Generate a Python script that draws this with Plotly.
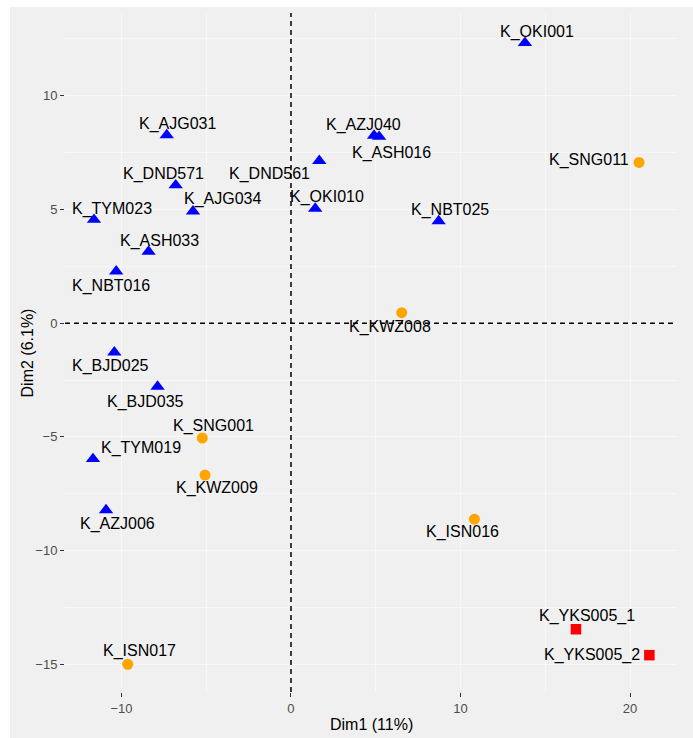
import plotly.graph_objects as go

# PCA coordinates of each sample (Dim1, Dim2), grouped by cluster
blue_names = ["K_OKI001", "K_AJG031", "K_DND571", "K_AJG034", "K_TYM023", "K_ASH033",
              "K_NBT016", "K_DND561", "K_OKI010", "K_AZJ040", "K_ASH016", "K_NBT025",
              "K_BJD025", "K_BJD035", "K_TYM019", "K_AZJ006"]
blue_dim1 = [13.8, -7.33, -6.80, -5.78, -11.62, -8.40, -10.31, 1.67, 1.43, 4.9, 5.2, 8.71,
             -10.42, -7.87, -11.68, -10.91]
blue_dim2 = [12.33, 8.27, 6.07, 4.92, 4.55, 3.15, 2.28, 7.14, 5.04, 8.25, 8.2, 4.49,
             -1.28, -2.79, -5.97, -8.22]

orange_names = ["K_SNG011", "K_KWZ008", "K_SNG001", "K_KWZ009", "K_ISN016", "K_ISN017"]
orange_dim1 = [20.53, 6.53, -5.23, -5.07, 10.82, -9.63]
orange_dim2 = [7.07, 0.46, -5.05, -6.68, -8.62, -15.0]

red_names = ["K_YKS005_1", "K_YKS005_2"]
red_dim1 = [16.81, 21.14]
red_dim2 = [-13.46, -14.6]

x_ticks = [-10, 0, 10, 20]
y_ticks = [-15, -10, -5, 0, 5, 10]

# repelled label placement: pixel offset (dx, dy) of each label from its point
label_offsets = {
    "K_OKI001": (12, 11), "K_AJG031": (11, 11), "K_DND571": (-12, 11),
    "K_AJG034": (30, 12), "K_TYM023": (18, 11), "K_ASH033": (11, 11),
    "K_NBT016": (-5, -15), "K_DND561": (-50, -13), "K_OKI010": (12, 12),
    "K_AZJ040": (-11, 11), "K_ASH016": (12, -16), "K_NBT025": (11, 11),
    "K_BJD025": (-4, -14), "K_BJD035": (-12, -15), "K_TYM019": (48, 11),
    "K_AZJ006": (11, -14),
    "K_SNG011": (-50, 2), "K_KWZ008": (-12, -14), "K_SNG001": (11, 12),
    "K_KWZ009": (12, -13), "K_ISN016": (-12, -13), "K_ISN017": (12, 13),
    "K_YKS005_1": (11, 13), "K_YKS005_2": (-57, 0),
}

BG = "#F0F0F0"
GRID = "#F8F8F8"
FONT = "Liberation Sans, Arial, Helvetica, sans-serif"

fig = go.Figure()

fig.add_trace(go.Scatter(
    x=blue_dim1, y=blue_dim2, mode="markers", text=blue_names,
    marker=dict(symbol="triangle-up", size=12.5, color="#0000FF", line=dict(width=0)),
    showlegend=False, hoverinfo="text"))
fig.add_trace(go.Scatter(
    x=orange_dim1, y=orange_dim2, mode="markers", text=orange_names,
    marker=dict(symbol="circle", size=11, color="#FFA500", line=dict(width=0)),
    showlegend=False, hoverinfo="text"))
fig.add_trace(go.Scatter(
    x=red_dim1, y=red_dim2, mode="markers", text=red_names,
    marker=dict(symbol="square", size=10.5, color="#FF0000", line=dict(width=0)),
    showlegend=False, hoverinfo="text"))

# text labels next to the points
annotations = []
for names, xs, ys in [(blue_names, blue_dim1, blue_dim2),
                      (orange_names, orange_dim1, orange_dim2),
                      (red_names, red_dim1, red_dim2)]:
    for n, xv, yv in zip(names, xs, ys):
        dx, dy = label_offsets[n]
        annotations.append(dict(
            x=xv, y=yv, xref="x", yref="y", text=n, showarrow=False,
            xshift=dx, yshift=dy, xanchor="center", yanchor="middle",
            font=dict(family=FONT, size=16, color="black")))

# axis titles
annotations.append(dict(x=0.5, y=-0.0486, xref="paper", yref="paper", text="Dim1 (11%)",
                        showarrow=False, xanchor="center", yanchor="middle",
                        font=dict(family=FONT, size=16, color="black")))
annotations.append(dict(x=-0.0605, y=0.5, xref="paper", yref="paper", text="Dim2 (6.1%)",
                        showarrow=False, xanchor="center", yanchor="middle", textangle=-90,
                        font=dict(family=FONT, size=16, color="black")))

shapes = [
    # background behind the whole plotting region
    dict(type="rect", xref="paper", yref="paper", x0=-0.0899, x1=1.03, y0=-0.08, y1=1.0089,
         fillcolor=BG, line=dict(width=0), layer="below"),
    # reference lines through the origin
    dict(type="line", xref="x", yref="paper", x0=0, x1=0, y0=0, y1=1,
         line=dict(color="black", width=1.5, dash="5px,4px")),
    dict(type="line", xref="paper", yref="y", x0=0, x1=1, y0=0, y1=0,
         line=dict(color="black", width=1.5, dash="5px,4px")),
]

fig.update_layout(
    width=693, height=738,
    margin=dict(l=65, r=16, t=13, b=46),
    paper_bgcolor="white", plot_bgcolor=BG,
    font=dict(family=FONT),
    annotations=annotations, shapes=shapes,
)

fig.update_xaxes(
    range=[-13.33, 22.77], tickvals=x_ticks, ticks="outside", ticklen=4, tickwidth=1.2,
    tickcolor="#333333", tickfont=dict(size=13, color="#4D4D4D", family=FONT),
    showgrid=True, gridcolor=GRID, gridwidth=1.2, zeroline=False, showline=False,
    minor=dict(tickvals=[-5, 5, 15], showgrid=True, gridcolor=GRID, gridwidth=0.6, ticks=""),
)
fig.update_yaxes(
    range=[-16.22, 13.64], tickvals=y_ticks, ticks="outside", ticklen=4, tickwidth=1.2,
    tickcolor="#333333", tickfont=dict(size=13, color="#4D4D4D", family=FONT),
    showgrid=True, gridcolor=GRID, gridwidth=1.2, zeroline=False, showline=False,
    minor=dict(tickvals=[-12.5, -7.5, -2.5, 2.5, 7.5, 12.5], showgrid=True,
               gridcolor=GRID, gridwidth=0.6, ticks=""),
)

fig.write_html("out.html")
